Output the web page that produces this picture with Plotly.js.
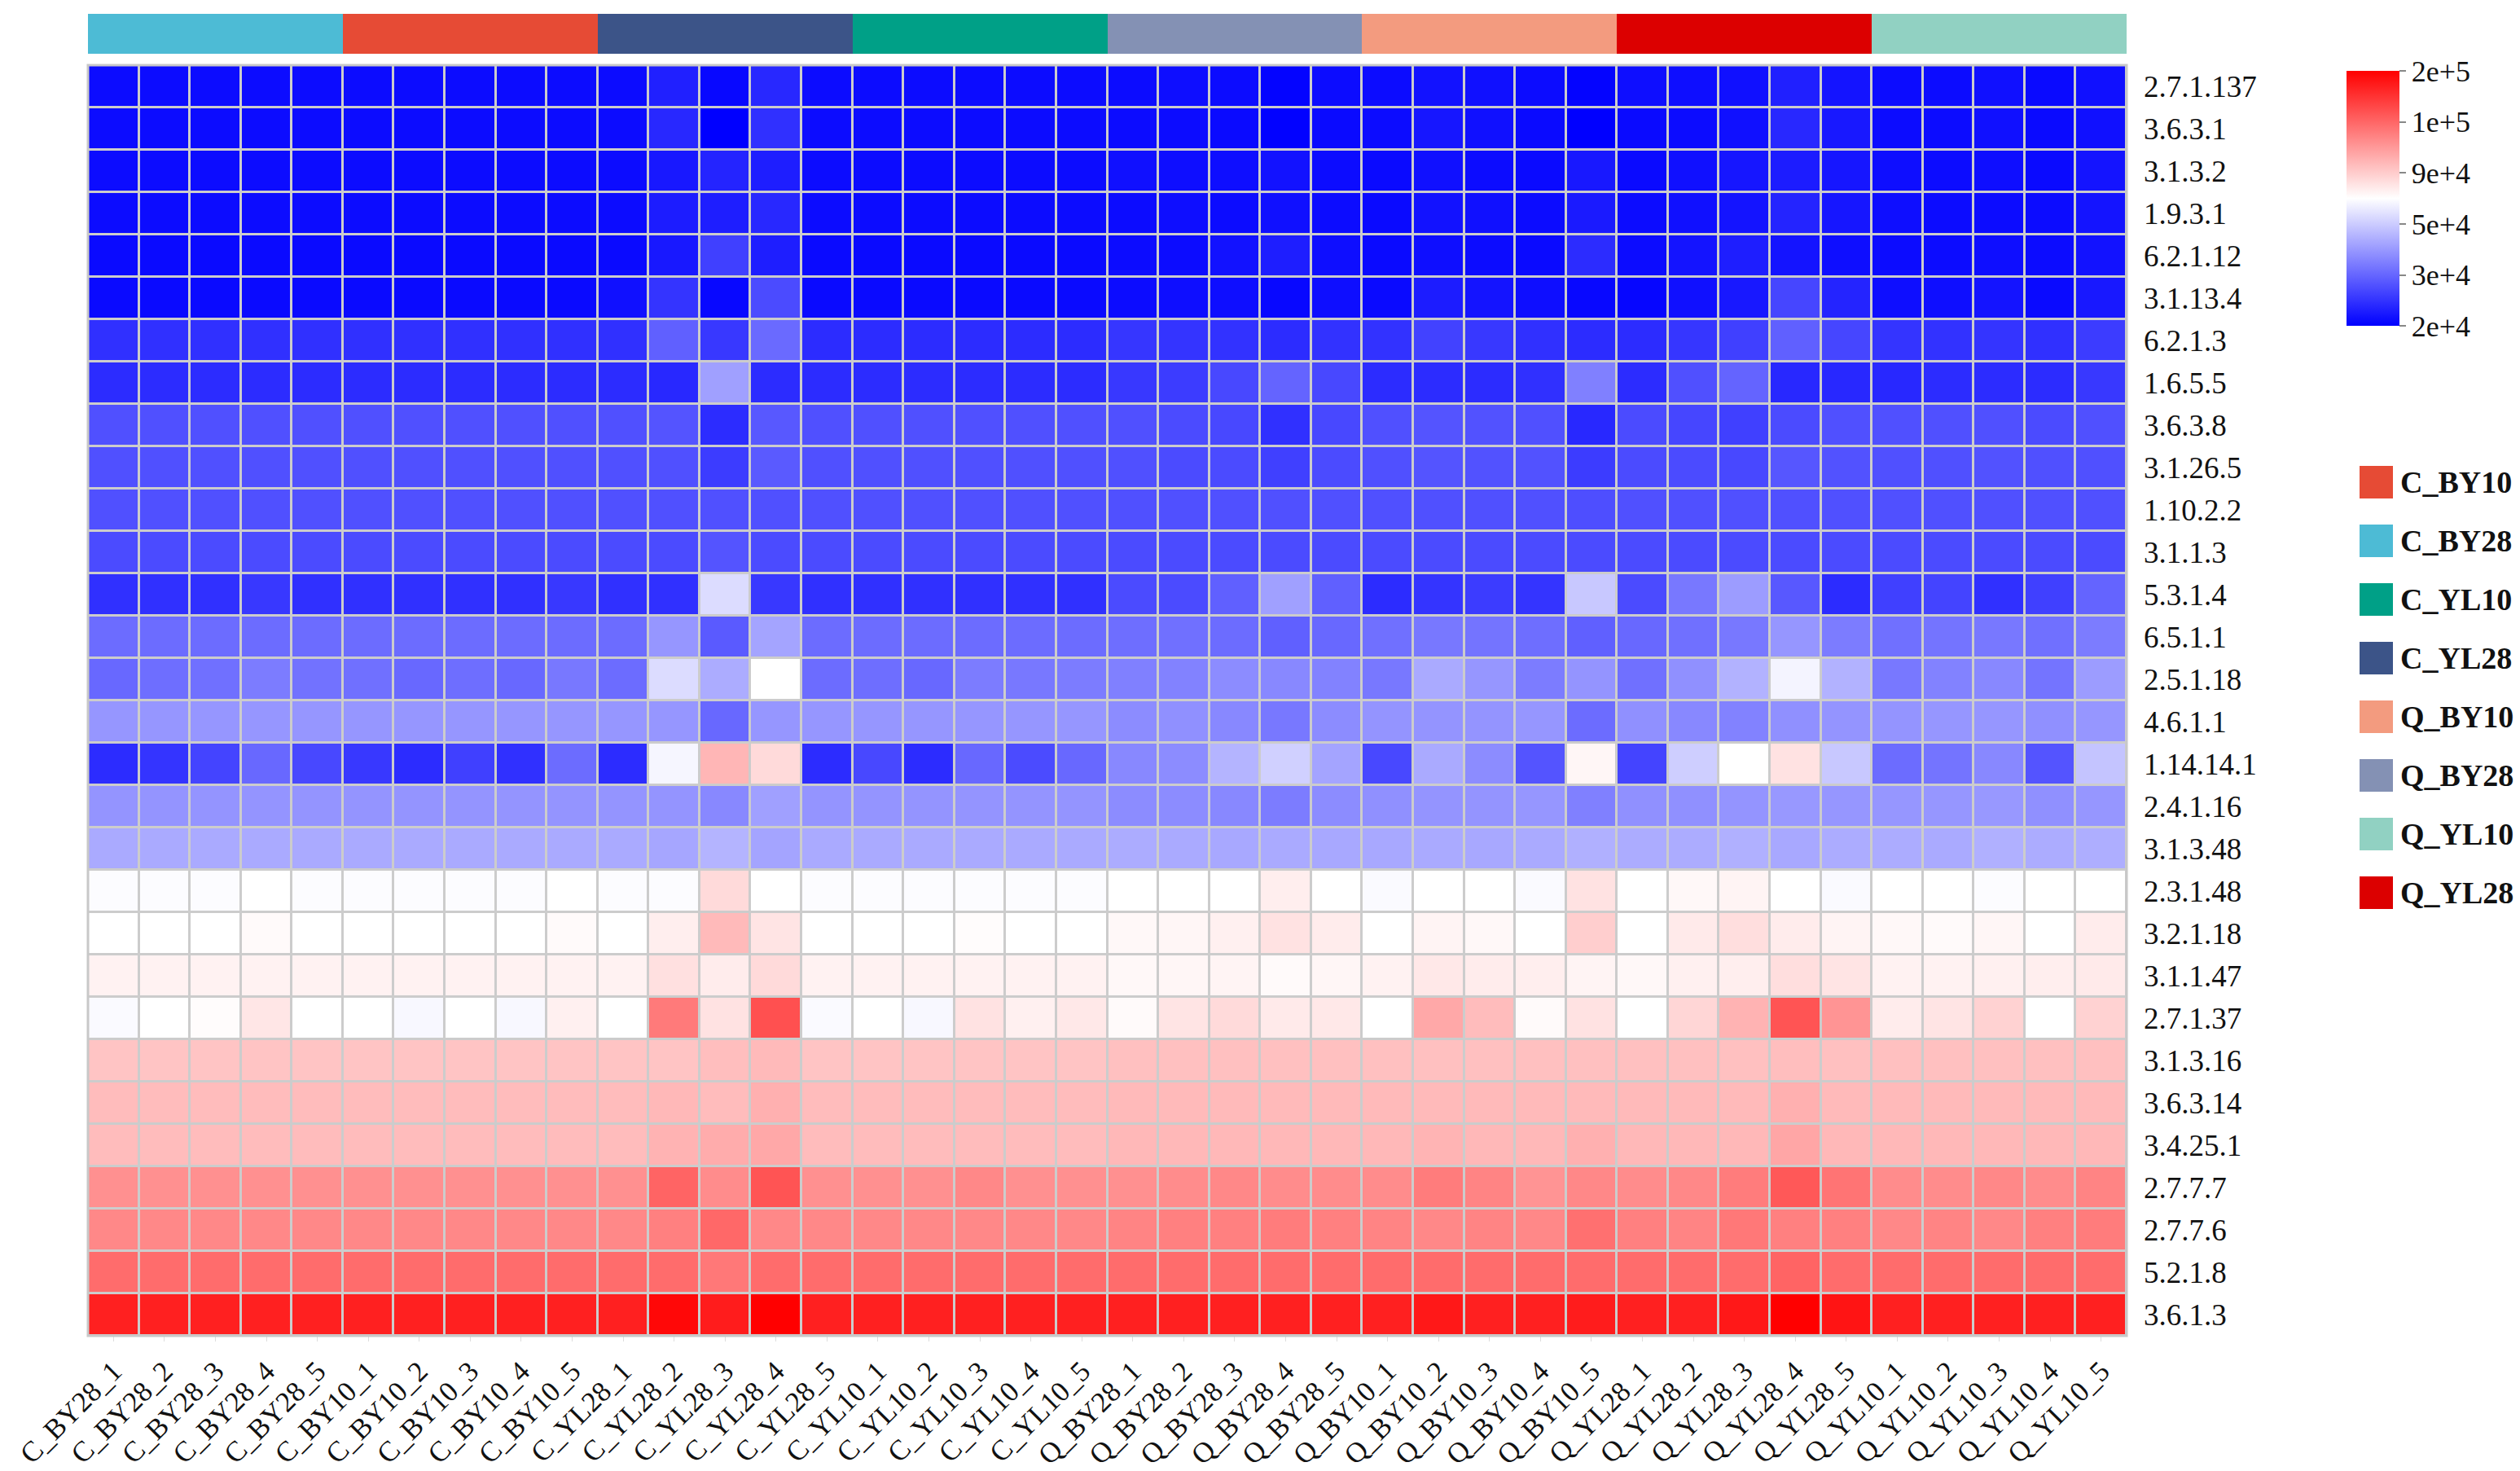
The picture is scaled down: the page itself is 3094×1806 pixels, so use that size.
<!DOCTYPE html>
<html>
<head>
<meta charset="utf-8">
<script src="https://cdn.plot.ly/plotly-3.0.1.min.js"></script>
<style>html,body{margin:0;padding:0;background:#fff;}#chart{width:3094px;height:1806px;}</style>
</head>
<body>
<div id="chart"></div>
<script>
// ---------- data ----------
const enzymes = ["2.7.1.137","3.6.3.1","3.1.3.2","1.9.3.1","6.2.1.12","3.1.13.4","6.2.1.3","1.6.5.5","3.6.3.8","3.1.26.5",
  "1.10.2.2","3.1.1.3","5.3.1.4","6.5.1.1","2.5.1.18","4.6.1.1","1.14.14.1","2.4.1.16","3.1.3.48","2.3.1.48",
  "3.2.1.18","3.1.1.47","2.7.1.37","3.1.3.16","3.6.3.14","3.4.25.1","2.7.7.7","2.7.7.6","5.2.1.8","3.6.1.3"];

const samples = ["C_BY28_1","C_BY28_2","C_BY28_3","C_BY28_4","C_BY28_5",
  "C_BY10_1","C_BY10_2","C_BY10_3","C_BY10_4","C_BY10_5",
  "C_YL28_1","C_YL28_2","C_YL28_3","C_YL28_4","C_YL28_5",
  "C_YL10_1","C_YL10_2","C_YL10_3","C_YL10_4","C_YL10_5",
  "Q_BY28_1","Q_BY28_2","Q_BY28_3","Q_BY28_4","Q_BY28_5",
  "Q_BY10_1","Q_BY10_2","Q_BY10_3","Q_BY10_4","Q_BY10_5",
  "Q_YL28_1","Q_YL28_2","Q_YL28_3","Q_YL28_4","Q_YL28_5",
  "Q_YL10_1","Q_YL10_2","Q_YL10_3","Q_YL10_4","Q_YL10_5"];

const groups = ["C_BY10","C_BY28","C_YL10","C_YL28","Q_BY10","Q_BY28","Q_YL10","Q_YL28"];
const groupColors = ["#E64B35","#4DBBD5","#00A087","#3C5488","#F39B7F","#8491B4","#91D1C2","#DC0000"];

// colour bar ticks (values in thousands)
const tickValues = [20, 30, 50, 90, 100, 200];
const tickLabels = ["2e+4","3e+4","5e+4","9e+4","1e+5","2e+5"];

// abundance values (thousands), one array per enzyme, 40 samples each
const v_2_7_1_137 = [21.2,21.2,21.2,21.2,21.2, 21.2,21.2,21.2,21.2,21.2, 21.2,23.1,20.8,23.9,21.2, 21.2,21.2,21.2,21.2,21.2, 21.2,21.4,21.2,20.4,21.2, 21.2,21.8,21.6,21.2,20.4, 21.4,21.4,21.6,23.1,22.0, 21.2,21.2,21.6,21.0,21.6];
const v_3_6_3_1 = [21.2,21.2,21.2,21.2,21.2, 21.2,21.2,21.2,21.2,21.2, 21.2,23.9,20.0,24.7,21.2, 21.2,21.2,21.2,21.2,21.2, 21.2,21.2,21.0,20.2,21.0, 21.2,22.2,21.6,21.0,20.0, 21.0,21.2,21.6,23.9,22.4, 21.2,21.2,21.6,21.0,21.6];
const v_3_1_3_2 = [21.2,21.2,21.2,21.2,21.2, 21.2,21.2,21.2,21.2,21.2, 21.2,22.4,23.5,22.9,21.2, 21.2,21.2,21.2,21.2,21.2, 21.6,21.4,21.4,21.8,21.2, 21.0,21.6,21.2,21.0,22.4, 21.0,21.6,22.2,22.7,22.2, 21.4,21.2,21.4,21.0,22.0];
const v_1_9_3_1 = [21.2,21.2,21.2,21.2,21.2, 21.2,21.2,21.2,21.2,21.2, 21.2,22.7,22.9,23.9,21.2, 21.2,21.2,21.2,21.2,21.2, 21.2,21.4,21.2,21.6,21.2, 21.0,21.8,21.6,21.2,22.5, 21.2,21.6,22.0,23.5,22.2, 21.4,21.2,21.2,21.2,22.0];
const v_6_2_1_12 = [21.0,21.0,21.0,21.0,21.0, 21.0,21.0,21.0,21.0,21.0, 21.0,22.4,26.3,22.9,21.0, 21.0,21.0,21.0,21.0,21.0, 21.2,21.2,21.8,22.9,21.4, 21.0,21.4,21.2,21.0,24.3, 21.2,22.0,22.9,22.0,21.4, 21.2,21.2,21.4,21.2,21.8];
const v_3_1_13_4 = [21.0,21.0,21.0,21.0,21.0, 21.0,21.0,21.0,21.0,21.0, 21.6,25.1,20.8,27.4,21.0, 21.0,21.0,21.0,21.0,21.0, 21.2,21.4,21.4,20.8,21.4, 21.0,22.7,22.0,21.4,20.8, 20.6,21.6,22.4,26.9,23.5, 21.4,21.4,22.0,21.0,22.4];
const v_6_2_1_3 = [24.7,24.7,24.7,24.7,24.7, 24.7,24.7,24.7,24.7,24.7, 24.7,29.4,25.5,30.8,24.3, 24.3,24.3,24.3,24.3,24.3, 25.3,25.1,24.9,24.3,24.9, 24.9,26.5,25.5,24.7,24.3, 24.3,25.3,26.3,29.4,26.9, 25.1,24.9,25.1,24.7,25.9];
const v_1_6_5_5 = [24.3,24.3,24.3,24.3,24.3, 24.3,24.3,24.3,24.3,24.3, 24.3,23.9,41.4,24.3,24.3, 24.3,24.3,24.3,24.3,24.3, 25.5,25.9,27.1,29.8,27.1, 24.3,24.3,24.3,24.7,35.1, 24.3,27.8,29.8,23.9,23.9, 23.9,24.3,24.3,24.3,25.5];
const v_3_6_3_8 = [27.8,27.8,27.8,27.8,27.8, 27.8,27.8,27.8,27.8,27.8, 27.8,28.2,24.3,28.6,27.8, 27.8,27.8,27.8,27.8,27.8, 27.8,27.4,27.1,24.7,27.1, 27.8,28.2,28.0,27.8,23.9, 27.4,26.9,26.3,27.4,27.8, 27.8,27.8,27.8,27.4,27.8];
const v_3_1_26_5 = [27.8,27.8,27.8,27.8,27.8, 27.8,27.8,27.8,27.8,27.8, 27.8,27.8,25.9,28.8,27.8, 27.8,27.8,27.8,27.8,27.8, 27.8,27.4,27.4,26.3,27.4, 27.8,28.2,28.0,28.0,25.9, 27.4,27.4,27.1,28.4,28.0, 27.8,27.8,28.0,27.8,27.8];
const v_1_10_2_2 = [27.8,27.8,27.8,27.8,27.8, 27.8,27.8,27.8,27.8,27.8, 27.8,27.8,27.8,27.8,27.8, 27.8,27.8,27.8,27.8,27.8, 27.8,27.8,27.8,27.8,27.8, 27.8,27.8,27.8,27.8,27.6, 27.8,27.8,27.8,27.8,27.8, 27.8,27.8,27.8,27.8,27.8];
const v_3_1_1_3 = [27.4,27.4,27.4,27.4,27.4, 27.4,27.4,27.4,27.4,27.4, 27.4,27.4,28.2,27.4,27.4, 27.4,27.4,27.4,27.4,27.4, 27.4,27.4,27.4,27.4,27.4, 27.4,27.4,27.4,27.4,27.4, 27.4,27.4,27.4,27.4,27.4, 27.4,27.4,27.4,27.4,27.4];
const v_5_3_1_4 = [24.7,24.7,24.7,25.5,24.7, 24.7,24.7,24.7,24.7,25.5, 24.7,24.7,56.3,25.5,24.7, 24.7,24.7,24.7,24.7,24.7, 27.4,27.4,29.4,41.4,29.4, 24.3,25.1,25.9,25.1,49.2, 27.4,33.5,40.6,28.6,24.3, 26.3,26.7,24.7,26.3,29.8];
const v_6_5_1_1 = [31.2,31.2,31.2,31.2,31.2, 31.2,31.2,31.2,31.2,31.2, 31.2,39.4,28.8,42.2,31.2, 31.2,31.2,31.2,31.2,31.2, 31.6,32.0,31.2,29.4,30.4, 32.0,33.5,32.7,31.6,29.4, 30.4,32.0,33.5,39.4,34.3, 32.0,32.7,33.5,32.0,34.3];
const v_2_5_1_18 = [30.4,31.6,32.0,34.3,32.4, 32.0,30.4,31.6,30.4,33.5, 31.2,56.3,43.7,70.0,31.2, 31.6,30.4,34.3,33.5,34.3, 35.1,35.5,37.4,36.7,35.5, 33.5,43.3,39.4,34.3,39.0, 32.0,38.2,44.9,65.7,44.9, 33.5,35.5,36.7,32.7,40.6];
const v_4_6_1_1 = [39.4,39.4,39.4,39.4,39.4, 39.4,39.4,39.4,39.4,39.4, 39.4,39.4,30.4,39.4,39.4, 39.4,39.4,39.4,39.4,39.4, 37.4,38.2,36.7,33.5,37.4, 39.0,39.0,39.0,39.4,31.2, 38.2,36.7,35.5,38.2,39.0, 39.0,39.4,39.4,38.2,39.4];
const v_1_14_14_1 = [24.3,25.1,26.7,30.4,27.1, 25.5,24.3,26.3,24.7,31.2, 24.3,66.5,92.2,84.5,24.3, 27.1,24.3,30.4,27.4,30.4, 36.7,37.4,45.3,51.6,42.2, 27.1,43.3,37.4,28.2,73.5, 26.7,50.8,70.0,81.4,49.2, 31.2,32.7,36.7,28.2,48.4];
const v_2_4_1_16 = [39.0,39.0,39.0,39.0,39.0, 39.0,39.0,39.0,39.0,39.0, 39.0,39.0,36.7,41.4,39.0, 39.0,39.0,39.0,39.0,39.0, 37.4,37.4,36.7,34.3,37.4, 38.2,39.0,39.0,39.4,35.1, 38.2,38.2,39.0,39.8,39.4, 39.4,39.4,39.8,38.2,39.4];
const v_3_1_3_48 = [43.3,43.3,43.3,43.3,43.3, 43.3,43.3,43.3,43.3,43.3, 43.3,42.5,45.3,42.2,43.3, 43.3,43.3,43.3,43.3,43.3, 43.7,43.3,42.9,43.3,42.9, 42.9,43.3,42.9,43.3,44.5, 43.7,43.7,44.5,42.9,43.7, 43.7,43.3,44.5,43.7,44.1];
const v_2_3_1_48 = [68.8,68.8,68.8,70.0,68.8, 68.8,68.8,68.8,68.8,70.0, 68.8,68.8,84.5,70.0,68.8, 68.8,68.8,68.8,68.8,68.8, 70.0,70.0,70.0,76.7,70.0, 68.0,70.0,70.0,68.0,81.4, 70.0,72.7,74.3,70.0,68.0, 70.0,70.0,68.8,70.0,70.0];
const v_3_2_1_18 = [70.0,70.0,70.0,72.0,70.0, 70.0,70.0,70.0,70.0,72.0, 70.0,76.7,91.8,80.6,70.0, 70.0,70.0,71.2,70.0,70.0, 72.7,73.5,75.9,81.4,77.5, 70.0,74.3,72.7,70.0,89.2, 70.0,78.2,82.9,77.5,74.3, 72.7,72.0,73.5,70.0,77.5];
const v_3_1_1_47 = [75.1,75.1,75.1,75.1,75.1, 75.1,75.1,75.1,75.1,75.1, 75.1,82.2,77.5,84.5,75.1, 75.1,75.1,75.1,75.1,75.1, 72.7,73.5,74.3,72.0,73.5, 75.1,79.0,77.5,76.7,74.3, 72.7,75.9,76.7,82.9,80.6, 75.1,75.1,75.9,76.7,78.2];
const v_2_7_1_37 = [68.0,70.0,71.2,79.8,70.0, 70.0,67.3,70.0,67.3,75.9, 70.0,98.0,81.4,121.6,68.0, 70.0,67.3,81.4,75.9,79.0, 72.0,80.6,84.5,78.2,79.0, 70.0,93.5,91.6,72.0,81.4, 70.0,86.1,92.5,117.6,95.5, 77.5,80.6,87.6,70.0,87.6];
const v_3_1_3_16 = [90.8,90.8,90.8,90.8,90.8, 90.8,90.8,90.8,90.8,90.8, 90.8,90.8,91.4,91.8,90.8, 90.8,90.8,90.8,90.8,90.8, 91.2,91.2,91.2,91.2,91.2, 91.2,91.2,91.2,91.2,91.2, 91.2,91.2,91.2,91.4,91.2, 91.2,91.2,91.2,91.2,91.2];
const v_3_6_3_14 = [91.6,91.6,91.6,91.6,91.6, 91.6,91.6,91.6,91.6,91.6, 91.6,92.0,91.6,92.7,91.6, 91.6,91.6,91.6,91.6,91.6, 91.8,91.8,91.8,91.8,91.8, 91.8,91.8,91.8,91.8,91.8, 91.8,91.8,91.8,92.7,91.8, 91.8,91.8,91.8,91.8,91.8];
const v_3_4_25_1 = [91.6,91.6,91.6,91.6,91.6, 91.6,91.6,91.6,91.6,91.6, 91.6,92.5,93.1,93.5,91.6, 91.6,91.6,91.6,91.6,91.6, 92.0,92.0,92.0,92.0,92.0, 92.0,92.4,92.0,92.0,92.7, 92.0,92.0,92.0,93.7,92.0, 92.0,92.0,92.0,92.0,92.0];
const v_2_7_7_7 = [95.9,95.9,95.9,95.9,95.9, 95.9,95.9,95.9,95.9,95.9, 95.9,102.0,96.3,117.6,95.9, 95.9,95.9,96.7,95.9,95.9, 95.9,96.3,96.7,96.3,96.3, 96.3,97.8,97.1,95.5,96.7, 96.3,96.7,97.8,113.7,98.6, 96.3,96.3,96.7,96.3,97.1];
const v_2_7_7_6 = [96.7,96.7,96.7,96.7,96.7, 96.7,96.7,96.7,96.7,96.7, 96.7,97.5,99.8,96.7,96.7, 96.7,96.7,96.7,96.7,96.7, 97.1,97.5,97.5,97.8,97.5, 97.1,96.7,97.1,96.7,99.0, 97.5,97.1,98.2,97.5,97.5, 96.7,97.1,96.7,97.5,97.8];
const v_5_2_1_8 = [99.4,99.4,99.4,99.4,99.4, 99.4,99.4,99.4,99.4,99.4, 99.4,99.4,98.2,99.4,99.4, 99.4,99.4,99.4,99.4,99.4, 99.4,99.4,99.4,99.4,99.4, 99.4,99.4,99.4,99.4,99.4, 99.4,99.4,99.4,101.9,99.4, 99.4,99.4,99.4,99.4,99.4];
const v_3_6_1_3 = [168.6,168.6,168.6,168.6,168.6, 168.6,168.6,168.6,168.6,168.6, 168.6,192.0,172.5,200.0,168.6, 168.6,168.6,168.6,168.6,168.6, 168.6,168.6,168.6,168.6,168.6, 168.6,176.5,168.6,168.6,172.5, 168.6,168.6,176.5,200.0,180.4, 168.6,168.6,168.6,168.6,168.6];

const values = [v_2_7_1_137,v_3_6_3_1,v_3_1_3_2,v_1_9_3_1,v_6_2_1_12,v_3_1_13_4,v_6_2_1_3,v_1_6_5_5,v_3_6_3_8,v_3_1_26_5,
  v_1_10_2_2,v_3_1_1_3,v_5_3_1_4,v_6_5_1_1,v_2_5_1_18,v_4_6_1_1,v_1_14_14_1,v_2_4_1_16,v_3_1_3_48,v_2_3_1_48,
  v_3_2_1_18,v_3_1_1_47,v_2_7_1_37,v_3_1_3_16,v_3_6_3_14,v_3_4_25_1,v_2_7_7_7,v_2_7_7_6,v_5_2_1_8,v_3_6_1_3];

// ---------- colour-bar mapping (ticks are equally spaced on the bar) ----------
function toBar(v){
  if (v <= tickValues[0]) return 0;
  for (let i = 1; i < tickValues.length; i++) {
    if (v <= tickValues[i]) return (i - 1) + (v - tickValues[i-1]) / (tickValues[i] - tickValues[i-1]);
  }
  return tickValues.length - 1;
}
const zBar = values.map(r => r.map(toBar));
const hoverText = values.map(r => r.map(v => (v*1000).toExponential(2)));

// annotation strip: group of each sample
const sampleGroup = samples.map(s => s.split("_").slice(0,2).join("_"));
const stripZ = [sampleGroup.map(g => groups.indexOf(g))];
const nG = groups.length;
const stripScale = [];
groupColors.forEach((c, i) => {
  stripScale.push([Math.max(0, (i - 0.5) / (nG - 1)), c]);
  stripScale.push([Math.min(1, (i + 0.5) / (nG - 1)), c]);
});

// ---------- layout geometry ----------
const W = 3094, H = 1806;
const mL = 108, mR = W - 2611, mT = 17, mB = H - 1640;
const plotW = W - mL - mR, plotH = H - mT - mB;
const px = X => (X - mL) / plotW;
const py = Y => (H - mB - Y) / plotH;

const FONT = "Liberation Serif, Times New Roman, serif";

const traces = [
  {
    type: "heatmap",
    x: samples, y: enzymes, z: zBar,
    text: hoverText, hoverinfo: "x+y+text",
    zmin: 0, zmax: tickValues.length - 1,
    colorscale: [[0, "rgb(0,0,255)"], [0.5, "rgb(255,255,255)"], [1, "rgb(255,0,0)"]],
    xgap: 3, ygap: 3,
    xaxis: "x", yaxis: "y",
    colorbar: {
      xref: "container", yref: "container",
      x: 2881 / W, xanchor: "left",
      y: 1 - 97 / H, yanchor: "top",
      len: 313, lenmode: "pixels",
      thickness: 65, thicknessmode: "pixels",
      xpad: 0, ypad: 0,
      outlinewidth: 0,
      tickmode: "array",
      tickvals: tickValues.map((_, i) => i),
      ticktext: tickLabels,
      ticks: "outside", ticklen: 8, tickwidth: 2, tickcolor: "#888",
      tickfont: { family: FONT, size: 36, color: "#111" }
    }
  },
  {
    type: "heatmap",
    x: samples, y: ["group"], z: stripZ,
    zmin: 0, zmax: nG - 1,
    colorscale: stripScale, showscale: false,
    hoverinfo: "x",
    xaxis: "x", yaxis: "y2"
  }
];

const shapes = [
  { type: "rect", xref: "paper", yref: "paper", x0: 0, x1: 1, y0: 0, y1: py(80),
    line: { color: "#c8c8c8", width: 3 }, fillcolor: "rgba(0,0,0,0)" }
];
const annotations = [];
groups.forEach((g, i) => {
  const top = 572 + 72 * i;
  shapes.push({ type: "rect", xref: "paper", yref: "paper",
    x0: px(2897), x1: px(2938), y0: py(top + 40), y1: py(top),
    fillcolor: groupColors[i], line: { width: 0 } });
  annotations.push({ xref: "paper", yref: "paper", x: px(2945), y: py(top + 20),
    xanchor: "left", yanchor: "middle", showarrow: false, text: "<b>" + g + "</b>",
    font: { family: FONT, size: 38, color: "#111" } });
});

const layout = {
  width: W, height: H,
  margin: { l: mL, r: mR, t: mT, b: mB, pad: 0 },
  paper_bgcolor: "#ffffff",
  plot_bgcolor: "#cccccc",
  showlegend: false,
  xaxis: {
    type: "category", showgrid: false, zeroline: false, showline: false,
    tickangle: -45, ticks: "outside", ticklen: 6, tickwidth: 1, tickcolor: "#dddddd",
    ticklabelstandoff: 2,
    tickfont: { family: FONT, size: 35, color: "#111" },
    anchor: "y"
  },
  yaxis: {
    domain: [0, py(80)], type: "category", autorange: "reversed",
    side: "right", showgrid: false, zeroline: false, showline: false,
    ticks: "", ticklabelstandoff: 20,
    tickfont: { family: FONT, size: 37, color: "#111" },
    anchor: "x"
  },
  yaxis2: {
    domain: [py(66), py(17)], showticklabels: false, showgrid: false,
    zeroline: false, ticks: "", anchor: "x", fixedrange: true
  },
  shapes: shapes,
  annotations: annotations
};

Plotly.newPlot("chart", traces, layout, { displayModeBar: false, staticPlot: true });
</script>
</body>
</html>
